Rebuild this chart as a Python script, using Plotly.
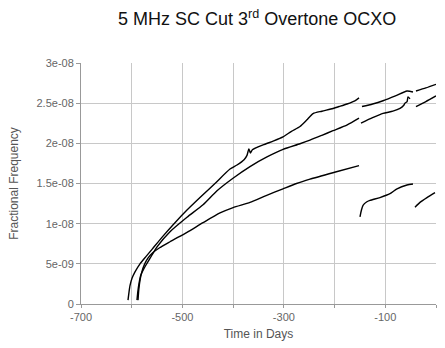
import plotly.graph_objects as go

# Top curve (three segments)
top1_x = [-607.3, -605.4, -603.4, -599.4, -593.5, -583.7, -572.0, -560.0, -538.3, -514.7, -491.0,
          -465.4, -435.8, -406.2, -392.4, -378.0, -372.7, -369.0, -366.0, -362.0, -341.1, -320.0,
          -301.7, -285.0, -268.2, -255.0, -242.5, -225.0, -203.1, -190.0, -175.5, -160.0, -151.8]
top1_y = [0.048, 0.145, 0.229, 0.320, 0.400, 0.500, 0.590, 0.680, 0.845, 1.012, 1.169,
          1.325, 1.500, 1.680, 1.730, 1.800, 1.850, 1.930, 1.880, 1.920, 1.980, 2.030,
          2.080, 2.150, 2.210, 2.290, 2.370, 2.400, 2.434, 2.460, 2.490, 2.530, 2.566]
top2_x = [-146.0, -125.0, -104.5, -80.0, -57.2, -45.4]
top2_y = [2.458, 2.490, 2.530, 2.590, 2.651, 2.639]
top3_x = [-39.5, -20.0, 0.0]
top3_y = [2.651, 2.690, 2.735]

# Middle curve (three segments)
mid1_x = [-589.6, -588.0, -585.5, -582.0, -576.0, -569.9, -560.0, -550.1, -524.5, -491.0, -459.4,
          -431.8, -400.3, -366.8, -333.3, -301.7, -268.2, -248.5, -225.0, -203.1, -175.0, -151.8]
mid1_y = [0.048, 0.150, 0.260, 0.360, 0.440, 0.506, 0.610, 0.711, 0.900, 1.080, 1.235,
          1.410, 1.566, 1.711, 1.831, 1.925, 1.995, 2.040, 2.100, 2.157, 2.230, 2.313]
mid2_x = [-147.9, -125.0, -104.5, -85.0, -71.0, -64.0, -61.2, -57.0, -55.2, -51.3]
mid2_y = [2.253, 2.320, 2.373, 2.400, 2.434, 2.470, 2.500, 2.520, 2.578, 2.554]
mid3_x = [-39.5, -20.0, 0.0]
mid3_y = [2.458, 2.520, 2.590]

# Bottom curve (three segments)
bot1_x = [-587.6, -586.0, -583.5, -580.0, -575.0, -568.0, -558.0, -545.0, -524.5, -491.0,
          -459.4, -425.9, -400.0, -366.8, -335.0, -301.7, -275.0, -248.5, -200.0, -151.8]
bot1_y = [0.048, 0.180, 0.300, 0.400, 0.490, 0.570, 0.640, 0.700, 0.775, 0.892,
          1.012, 1.133, 1.200, 1.265, 1.350, 1.434, 1.500, 1.554, 1.640, 1.723]
bot2_x = [-149.9, -147.0, -143.9, -137.0, -130.2, -110.5, -90.7, -76.9, -57.2, -45.4]
bot2_y = [1.084, 1.170, 1.229, 1.270, 1.289, 1.325, 1.373, 1.434, 1.482, 1.494]
bot3_x = [-41.4, -31.6, -17.8, -2.0]
bot3_y = [1.205, 1.265, 1.325, 1.386]

x_tickvals = [-700, -600, -500, -400, -300, -200, -100, 0]
x_ticktext = ["-700", "", "-500", "", "-300", "", "-100", ""]
y_tickvals = [0, 5e-9, 1e-8, 1.5e-8, 2e-8, 2.5e-8, 3e-8]
y_ticktext = ["0", "5e-09", "1e-08", "1.5e-08", "2e-08", "2.5e-08", "3e-08"]

segments = [(top1_x, top1_y), (top2_x, top2_y), (top3_x, top3_y),
            (mid1_x, mid1_y), (mid2_x, mid2_y), (mid3_x, mid3_y),
            (bot1_x, bot1_y), (bot2_x, bot2_y), (bot3_x, bot3_y)]

fig = go.Figure()
for xs, ys in segments:
    fig.add_trace(go.Scatter(x=xs, y=[v * 1e-8 for v in ys], mode="lines",
                             line=dict(color="black", width=1.4, shape="spline", smoothing=0.6),
                             showlegend=False, hoverinfo="skip"))

fig.update_layout(
    width=445, height=348,
    margin=dict(l=81, r=9, t=63, b=36),
    paper_bgcolor="white", plot_bgcolor="white",
    font=dict(family="Liberation Sans, Arial, sans-serif"),
    title=dict(text="5 MHz SC Cut 3<sup>rd</sup> Overtone OCXO",
               x=0.578, xanchor="center", y=0.945, yanchor="middle",
               font=dict(size=18, color="#111")),
    xaxis=dict(range=[-700, 0], tickvals=x_tickvals, ticktext=x_ticktext,
               showgrid=True, gridcolor="#c8c8c8", gridwidth=1,
               showline=True, linecolor="#999", linewidth=1,
               ticks="outside", ticklen=3, tickcolor="#999",
               tickfont=dict(size=11, color="#666"), zeroline=False,
               title=dict(text="Time in Days", font=dict(size=12, color="#555"), standoff=7)),
    yaxis=dict(range=[0, 3e-8], tickvals=y_tickvals, ticktext=y_ticktext,
               showgrid=True, gridcolor="#c8c8c8", gridwidth=1,
               showline=True, linecolor="#999", linewidth=1,
               ticks="outside", ticklen=4, tickcolor="#999",
               tickfont=dict(size=11, color="#666"), zeroline=False,
               title=dict(text="Fractional Frequency", font=dict(size=12, color="#555"), standoff=15)),
)

fig.write_html("out.html")
